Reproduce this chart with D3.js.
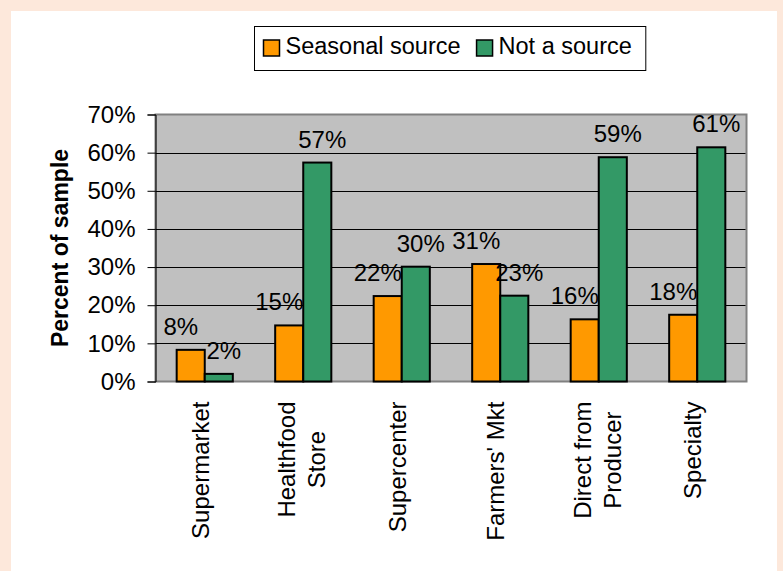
<!DOCTYPE html>
<html>
<head>
<meta charset="utf-8">
<script src="https://cdn.jsdelivr.net/npm/d3@7"></script>
<style>
  html, body { margin: 0; padding: 0; background: #fde8db; }
  svg { display: block; font-family: "Liberation Sans", Arial, sans-serif; }
</style>
</head>
<body>
<div id="chart"></div>
<script>
// Données
const categories = [
    ['Supermarket'],
    ['Healthfood', 'Store'],
    ['Supercenter'],
    ["Farmers' Mkt"],
    ['Direct from', 'Producer'],
    ['Specialty']
];
const seriesNames = ['Seasonal source', 'Not a source'];
const seasonal = [8.3, 14.7, 22.4, 30.8, 16.3, 17.5];
const notSource = [2.0, 57.4, 30.1, 22.5, 58.8, 61.4];
const yTicks = [0, 10, 20, 30, 40, 50, 60, 70];
const colors = ['#ff9900', '#339966'];

const W = 783, H = 571;
const plot = { left: 155.5, right: 746.5, top: 114.5, bottom: 381.5 };
const fontSize = '24px';

const svg = d3.select('#chart').append('svg')
    .attr('width', W)
    .attr('height', H);

// fond blanc du panneau
svg.append('rect')
    .attr('x', 11).attr('y', 11)
    .attr('width', 766).attr('height', H - 11)
    .attr('fill', '#fff');

// Échelles
const x0 = d3.scaleBand()
    .domain(d3.range(categories.length))
    .range([plot.left, plot.right])
    .paddingInner(0.43)
    .paddingOuter(0.215);
const x1 = d3.scaleBand()
    .domain([0, 1])
    .range([0, x0.bandwidth()]);
const y = d3.scaleLinear().domain([0, 70]).range([plot.bottom, plot.top]);

// Zone de tracé
svg.append('rect')
    .attr('x', plot.left).attr('y', plot.top)
    .attr('width', plot.right - plot.left)
    .attr('height', plot.bottom - plot.top)
    .attr('fill', '#c0c0c0')
    .attr('stroke', '#808080')
    .attr('stroke-width', 2);

// Quadrillage
svg.append('g')
    .selectAll('line')
    .data(yTicks.filter(d => d > 0 && d < 70))
    .join('line')
    .attr('x1', plot.left).attr('x2', plot.right - 1)
    .attr('y1', d => Math.round(y(d)) + 0.5)
    .attr('y2', d => Math.round(y(d)) + 0.5)
    .attr('stroke', '#000')
    .attr('stroke-width', 1);

// Axe Y
const yAxis = svg.append('g')
    .attr('transform', `translate(${plot.left},0)`)
    .call(d3.axisLeft(y).tickValues(yTicks).tickSize(8).tickPadding(12).tickFormat(d => d + '%'));
yAxis.select('.domain').attr('stroke', '#000').attr('stroke-width', 1);
yAxis.selectAll('.tick line').attr('stroke', '#000');
yAxis.selectAll('.tick text')
    .attr('fill', '#000')
    .style('font-size', fontSize)
    .style('font-family', '"Liberation Sans", Arial, sans-serif');

// Barres
const rows = categories.map((c, i) => ({ i, values: [seasonal[i], notSource[i]] }));
const groups = svg.append('g')
    .selectAll('g')
    .data(rows)
    .join('g')
    .attr('transform', d => `translate(${x0(d.i)},0)`);

groups.selectAll('rect')
    .data(d => d.values.map((v, s) => ({ v, s })))
    .join('rect')
    .attr('x', d => x1(d.s))
    .attr('y', d => y(d.v))
    .attr('width', x1.bandwidth())
    .attr('height', d => y(0) - y(d.v))
    .attr('fill', d => colors[d.s])
    .attr('stroke', '#000')
    .attr('stroke-width', 2);

// Étiquettes de valeurs
groups.selectAll('text')
    .data(d => d.values.map((v, s) => ({ v, s })))
    .join('text')
    .attr('x', d => x1(d.s) + x1.bandwidth() / 2 + (d.s === 0 ? -10 : 5))
    .attr('y', d => y(d.v) - 15)
    .attr('text-anchor', 'middle')
    .style('font-size', fontSize)
    .attr('fill', '#000')
    .text(d => Math.round(d.v) + '%');

// Libellés de catégories (verticaux)
const labelTop = 401.5;
const xLabels = svg.append('g');
categories.forEach((lines, i) => {
    const cx = x0(i) + x0.bandwidth() / 2;
    const g = xLabels.append('g');
    const texts = lines.map(line => g.append('text')
        .style('font-size', fontSize)
        .attr('text-anchor', 'middle')
        .attr('fill', '#000')
        .text(line));
    const maxW = d3.max(texts, t => t.node().getComputedTextLength());
    const cy = labelTop + maxW / 2;
    const n = lines.length;
    texts.forEach((t, k) => {
        const bx = cx + 4 + (k - (n - 1) / 2) * 30 + (n - 1) * 3;
        t.attr('transform', `translate(${bx},${cy}) rotate(-90)`);
    });
});

// Titre de l'axe Y
svg.append('text')
    .attr('transform', `translate(68,${(plot.top + plot.bottom) / 2}) rotate(-90)`)
    .attr('text-anchor', 'middle')
    .style('font-size', '23px')
    .style('font-weight', 'bold')
    .attr('fill', '#000')
    .text('Percent of sample');

// Légende
const legend = svg.append('g');
const legendBox = legend.append('rect')
    .attr('x', 254.5).attr('y', 26.5)
    .attr('height', 44)
    .attr('fill', '#fff')
    .attr('stroke', '#000')
    .attr('stroke-width', 1);

let lx = 263.5;
seriesNames.forEach((name, s) => {
    legend.append('rect')
        .attr('x', lx).attr('y', 40)
        .attr('width', 16).attr('height', 16)
        .attr('fill', colors[s])
        .attr('stroke', '#000')
        .attr('stroke-width', 1.5);
    const t = legend.append('text')
        .attr('x', lx + 22)
        .attr('y', 54)
        .style('font-size', '23.5px')
        .attr('fill', '#000')
        .text(name);
    lx += 22 + t.node().getComputedTextLength() + 16;
});
legendBox.attr('width', lx - 16 + 14 - 254.5);
</script>
</body>
</html>
